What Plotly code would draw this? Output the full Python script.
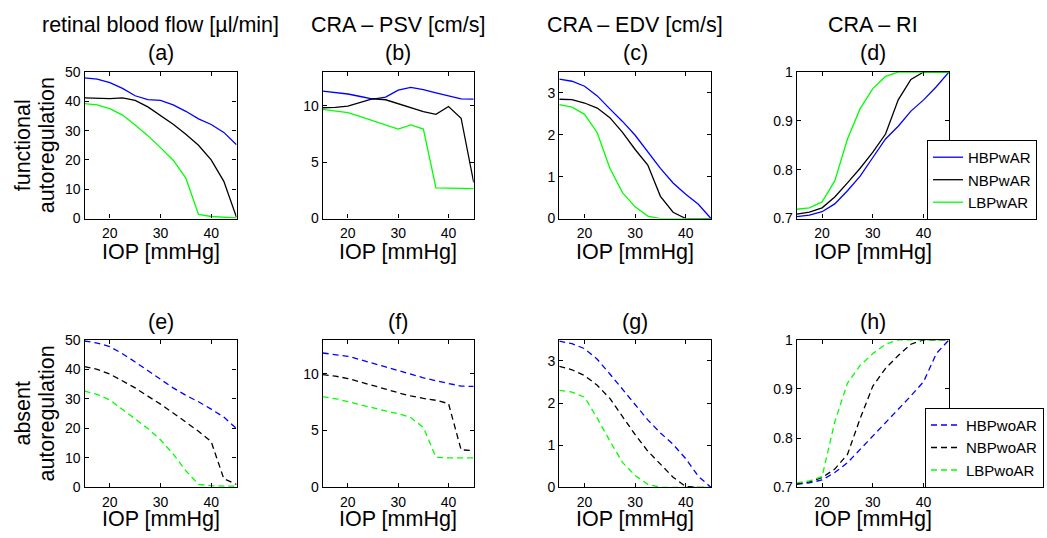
import plotly.graph_objects as go

# ---------------- data ----------------
IOP = [15, 17.5, 20, 22.5, 25, 27.5, 30, 32.5, 35, 37.5, 40, 42.5, 45]

# functional autoregulation (top row)
flow_H_wAR = [48.0, 47.6, 46.4, 44.4, 41.9, 40.6, 40.3, 38.8, 36.6, 34.0, 32.1, 29.4, 25.2]
flow_N_wAR = [41.2, 41.0, 40.9, 41.2, 40.3, 38.1, 35.2, 32.2, 28.8, 25.0, 20.0, 12.7, 0.4]
flow_L_wAR = [39.2, 38.8, 37.5, 35.3, 31.9, 28.3, 24.2, 19.9, 13.8, 1.4, 0.7, 0.4, 0.2]

psv_H_wAR = [11.30, 11.20, 11.05, 10.83, 10.60, 10.77, 11.40, 11.63, 11.43, 11.15, 10.90, 10.62, 10.60]
psv_N_wAR = [9.83, 9.86, 9.97, 10.30, 10.63, 10.54, 10.17, 9.83, 9.48, 9.25, 9.94, 8.90, 3.20]
psv_L_wAR = [9.68, 9.57, 9.40, 9.05, 8.68, 8.34, 7.94, 8.31, 7.94, 2.72, 2.69, 2.66, 2.66]

edv_H_wAR = [3.33, 3.28, 3.16, 2.93, 2.62, 2.32, 1.99, 1.58, 1.20, 0.85, 0.58, 0.34, 0.0]
edv_N_wAR = [2.85, 2.84, 2.76, 2.64, 2.41, 2.06, 1.65, 1.28, 0.53, 0.15, 0.0, 0.0, 0.0]
edv_L_wAR = [2.72, 2.66, 2.49, 2.05, 1.20, 0.62, 0.28, 0.06, 0.0, 0.0, 0.0, 0.0, 0.0]

ri_H_wAR = [0.704, 0.707, 0.714, 0.730, 0.757, 0.787, 0.825, 0.863, 0.889, 0.920, 0.943, 0.970, 1.0]
ri_N_wAR = [0.709, 0.713, 0.722, 0.744, 0.773, 0.803, 0.836, 0.873, 0.943, 0.985, 1.0, 1.0, 1.0]
ri_L_wAR = [0.719, 0.722, 0.734, 0.777, 0.863, 0.925, 0.966, 0.991, 1.0, 1.0, 1.0, 1.0, 1.0]

# absent autoregulation (bottom row)
flow_H_woAR = [49.6, 48.9, 47.7, 45.3, 42.5, 39.5, 36.5, 33.7, 31.2, 29.0, 26.5, 23.8, 19.9]
flow_N_woAR = [40.9, 40.0, 38.4, 36.1, 33.7, 30.9, 28.2, 25.2, 22.1, 19.0, 15.5, 2.9, 1.0]
flow_L_woAR = [32.6, 31.5, 29.6, 26.5, 23.2, 19.9, 16.1, 11.3, 5.6, 1.0, 0.55, 0.4, 0.4]

psv_H_woAR = [11.84, 11.72, 11.55, 11.25, 10.96, 10.61, 10.29, 9.94, 9.65, 9.39, 9.13, 8.92, 8.89]
psv_N_woAR = [9.94, 9.80, 9.59, 9.30, 9.00, 8.66, 8.34, 8.05, 7.84, 7.67, 7.38, 3.30, 3.24]
psv_L_woAR = [7.99, 7.81, 7.55, 7.26, 6.97, 6.73, 6.50, 6.15, 5.27, 2.65, 2.60, 2.60, 2.60]

edv_H_woAR = [3.47, 3.41, 3.29, 3.04, 2.69, 2.32, 1.95, 1.60, 1.29, 1.02, 0.68, 0.26, 0.0]
edv_N_woAR = [2.87, 2.79, 2.65, 2.42, 2.11, 1.68, 1.25, 0.86, 0.55, 0.24, 0.02, 0.0, 0.0]
edv_L_woAR = [2.30, 2.26, 2.14, 1.64, 1.10, 0.59, 0.28, 0.07, 0.0, 0.0, 0.0, 0.0, 0.0]

ri_H_woAR = [0.706, 0.709, 0.715, 0.730, 0.750, 0.777, 0.805, 0.833, 0.859, 0.886, 0.915, 0.972, 1.0]
ri_N_woAR = [0.707, 0.711, 0.720, 0.737, 0.767, 0.840, 0.906, 0.942, 0.968, 0.991, 1.0, 1.0, 1.0]
ri_L_woAR = [0.709, 0.713, 0.722, 0.833, 0.912, 0.948, 0.972, 0.991, 1.0, 1.0, 1.0, 1.0, 1.0]

col_titles = ["retinal blood flow [µl/min]", "CRA – PSV [cm/s]", "CRA – EDV [cm/s]", "CRA – RI"]
panel_labels = ["(a)", "(b)", "(c)", "(d)", "(e)", "(f)", "(g)", "(h)"]
row_titles = [["functional", "autoregulation"], ["absent", "autoregulation"]]
x_label = "IOP [mmHg]"
names_wAR = ["HBPwAR", "NBPwAR", "LBPwAR"]
names_woAR = ["HBPwoAR", "NBPwoAR", "LBPwoAR"]
colors = ["#0000ff", "#000000", "#00ff00"]

y_ranges = [[0, 50], [0, 13], [0, 3.5], [0.7, 1.0]]
y_tickvals = [[0, 10, 20, 30, 40, 50], [0, 5, 10], [0, 1, 2, 3], [0.7, 0.8, 0.9, 1.0]]
y_ticktext = [["0", "10", "20", "30", "40", "50"], ["0", "5", "10"], ["0", "1", "2", "3"],
              ["0.7", "0.8", "0.9", "1"]]
x_tickvals = [20, 30, 40]

top_sets = [[flow_H_wAR, flow_N_wAR, flow_L_wAR], [psv_H_wAR, psv_N_wAR, psv_L_wAR],
            [edv_H_wAR, edv_N_wAR, edv_L_wAR], [ri_H_wAR, ri_N_wAR, ri_L_wAR]]
bot_sets = [[flow_H_woAR, flow_N_woAR, flow_L_woAR], [psv_H_woAR, psv_N_woAR, psv_L_woAR],
            [edv_H_woAR, edv_N_woAR, edv_L_woAR], [ri_H_woAR, ri_N_woAR, ri_L_woAR]]

# ---------------- layout geometry (pixels) ----------------
W, H = 1047, 538
col_px = [(84.5, 236.5), (322.7, 473.7), (559.3, 711.0), (796.7, 949.0)]
row_px = [(66, 217), (342, 494)]

def px_x(p):
    return p / W

def px_y(p):
    return 1 - p / H

FONT = "Liberation Sans, Arial, Helvetica, sans-serif"
TITLE_SIZE = 21.5

fig = go.Figure()
layout = dict(
    width=W, height=H, autosize=False,
    margin=dict(l=0, r=0, t=0, b=0),
    paper_bgcolor="white", plot_bgcolor="white",
    font=dict(family=FONT, color="black", size=14),
    annotations=[],
)

for r in range(2):
    for c in range(4):
        idx = r * 4 + c + 1
        xa = "xaxis" if idx == 1 else f"xaxis{idx}"
        ya = "yaxis" if idx == 1 else f"yaxis{idx}"
        xref = "x" if idx == 1 else f"x{idx}"
        yref = "y" if idx == 1 else f"y{idx}"
        layout[xa] = dict(
            domain=[px_x(col_px[c][0]), px_x(col_px[c][1])], anchor=yref,
            range=[15, 45], tickvals=x_tickvals, ticks="inside", ticklen=4,
            tickcolor="black", showline=True, linecolor="black", linewidth=1.3,
            mirror="ticks", showgrid=False, zeroline=False, ticklabelstandoff=2,
            tickfont=dict(size=14, family=FONT, color="black"),
        )
        layout[ya] = dict(
            domain=[px_y(row_px[r][1]), px_y(row_px[r][0])], anchor=xref,
            range=y_ranges[c], tickvals=y_tickvals[c], ticktext=y_ticktext[c],
            ticks="inside", ticklen=4, tickcolor="black", showline=True,
            linecolor="black", linewidth=1.3, mirror="ticks", showgrid=False,
            zeroline=False, tickfont=dict(size=14, family=FONT, color="black"),
        )
        data_sets = top_sets[c] if r == 0 else bot_sets[c]
        names = names_wAR if r == 0 else names_woAR
        for k in range(3):
            fig.add_trace(go.Scatter(
                x=IOP, y=data_sets[k], mode="lines", name=names[k],
                line=dict(color=colors[k], width=1.3,
                          dash="solid" if r == 0 else "6px,4px"),
                xaxis=xref, yaxis=yref,
                showlegend=(c == 3),
                legend="legend" if r == 0 else "legend2",
                cliponaxis=True,
            ))
        cx = (col_px[c][0] + col_px[c][1]) / 2
        # panel label
        ly = 46 if r == 0 else 324
        layout["annotations"].append(dict(
            text=panel_labels[idx - 1], x=px_x(cx), y=px_y(ly), xref="paper", yref="paper",
            showarrow=False, xanchor="center", yanchor="middle", borderpad=0,
            font=dict(size=TITLE_SIZE, family=FONT, color="black")))
        # x label
        xy = 251 if r == 0 else 527
        layout["annotations"].append(dict(
            text=x_label, x=px_x(cx), y=px_y(xy), xref="paper", yref="paper",
            showarrow=False, xanchor="center", yanchor="middle", borderpad=0,
            font=dict(size=TITLE_SIZE, family=FONT, color="black")))
        if r == 0:
            layout["annotations"].append(dict(
                text=col_titles[c], x=px_x(cx), y=px_y(18), xref="paper", yref="paper",
                showarrow=False, xanchor="center", yanchor="middle", borderpad=0,
                font=dict(size=TITLE_SIZE, family=FONT, color="black")))

# row titles (rotated)
for r in range(2):
    cy = (row_px[r][0] + row_px[r][1]) / 2
    for li, xpos in enumerate([23, 47]):
        layout["annotations"].append(dict(
            text=row_titles[r][li], x=px_x(xpos), y=px_y(cy), xref="paper", yref="paper",
            showarrow=False, xanchor="center", yanchor="middle", textangle=-90,
            borderpad=0, font=dict(size=TITLE_SIZE, family=FONT, color="black")))

layout["legend"] = dict(
    x=px_x(927), y=px_y(136), xanchor="left", yanchor="top",
    bgcolor="white", bordercolor="black", borderwidth=1,
    font=dict(size=15, family=FONT, color="black"))
layout["legend2"] = dict(
    x=px_x(925), y=px_y(412), xanchor="left", yanchor="top",
    bgcolor="white", bordercolor="black", borderwidth=1,
    font=dict(size=15, family=FONT, color="black"))

fig.update_layout(**layout)
fig.write_html("out.html")
